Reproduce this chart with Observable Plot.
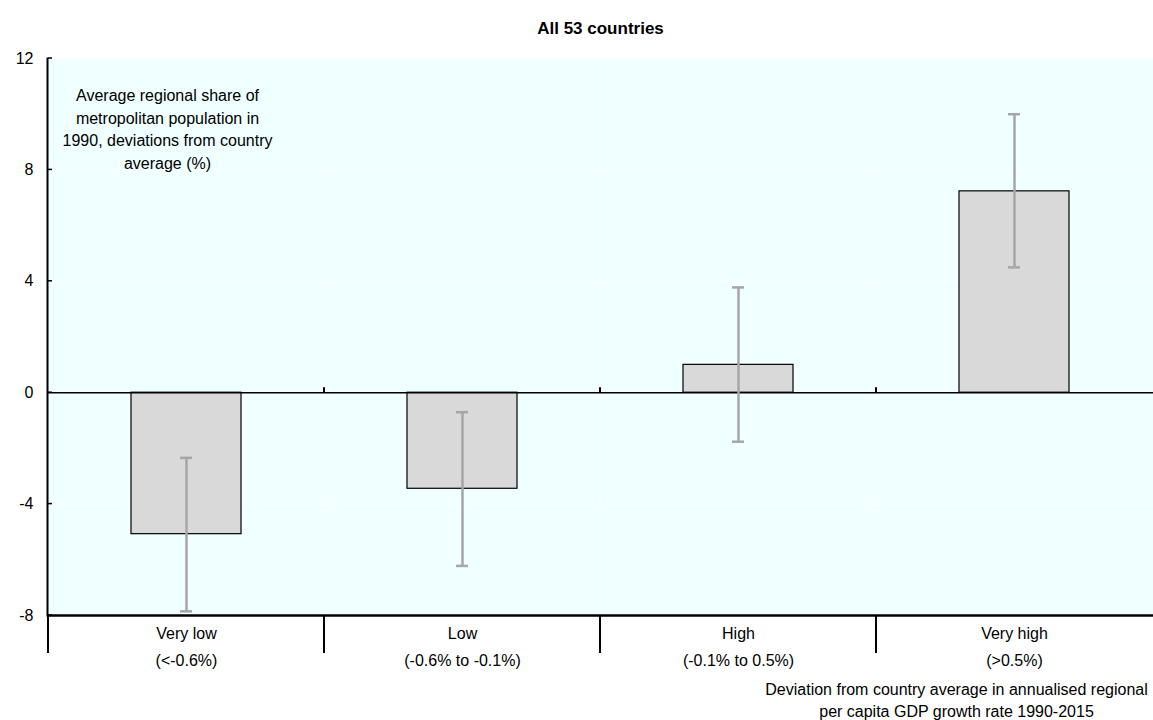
<!DOCTYPE html>
<html>
<head>
<meta charset="utf-8">
<script src="https://cdn.jsdelivr.net/npm/d3@7"></script>
<script src="https://cdn.jsdelivr.net/npm/@observablehq/plot@0.6"></script>
<style>
  html, body { margin: 0; padding: 0; background: #fff; }
  #chart svg { display: block; font-family: "Liberation Sans", Arial, sans-serif; }
</style>
</head>
<body>
<div id="chart"></div>
<script>
const categories = ["Very low", "Low", "High", "Very high"];
const ranges = ["(<-0.6%)", "(-0.6% to -0.1%)", "(-0.1% to 0.5%)", "(>0.5%)"];
const values = [-5.08, -3.45, 1.0, 7.23];
const lower = [-7.85, -6.22, -1.76, 4.5];
const upper = [-2.34, -0.7, 3.78, 10.0];
const yTicks = [-8, -4, 0, 4, 8, 12];
const title = "All 53 countries";
const yLabel = "Average regional share of\nmetropolitan population in\n1990, deviations from country\naverage (%)";
const xLabel = "Deviation from country average in annualised regional\nper capita GDP growth rate 1990-2015";

const data = categories.map((c, i) => ({cat: c, range: ranges[i], value: values[i], lo: lower[i], hi: upper[i]}));
const rangeOf = Object.fromEntries(categories.map((c, i) => [c, ranges[i]]));

const W = 1153, H = 720;
const plot = Plot.plot({
  width: W,
  height: H,
  marginTop: 58,
  marginBottom: 105,
  marginLeft: 47,
  marginRight: 0,
  style: {fontSize: "16px", color: "#000", background: "#fff"},
  x: {domain: categories, paddingInner: 0.6, paddingOuter: 0.3, axis: null},
  y: {domain: [-8, 12], axis: null},
  marks: [
    Plot.frame({fill: "#f0ffff", stroke: null}),
    Plot.gridY(yTicks, {stroke: "#fff", strokeOpacity: 1, strokeWidth: 1}),
    Plot.barY(data, {x: "cat", y: "value", fill: "#d9d9d9", stroke: "#000", strokeWidth: 1.2}),
    Plot.ruleY([0], {stroke: "#000", strokeWidth: 1.5}),
    Plot.ruleX(data, {x: "cat", y1: "lo", y2: "hi", stroke: "#a6a6a6", strokeWidth: 2.5}),
    Plot.tickY(data, {x: "cat", y: "lo", stroke: "#a6a6a6", strokeWidth: 2.5, insetLeft: 49, insetRight: 49}),
    Plot.tickY(data, {x: "cat", y: "hi", stroke: "#a6a6a6", strokeWidth: 2.5, insetLeft: 49, insetRight: 49}),
    Plot.ruleY([-8], {stroke: "#000", strokeWidth: 2.5}),
    Plot.frame({anchor: "left", stroke: "#000", strokeWidth: 2}),
    Plot.axisY({ticks: yTicks, tickSize: 0, tickPadding: 14, fontSize: 16, label: null, tickFormat: d => String(d)}),
    Plot.axisX({tickSize: 0, tickPadding: 4, lineHeight: 1.69, fontSize: 16, label: null, tickFormat: d => `${d}\n${rangeOf[d]}`}),
    Plot.text([yLabel], {frameAnchor: "top-left", dx: 120, dy: 27, lineAnchor: "top", textAnchor: "middle", lineHeight: 1.4, fontSize: 16, fill: "#000"}),
    Plot.text([title], {frameAnchor: "top", dy: -37, fontWeight: "bold", fontSize: 17, fill: "#000"}),
    Plot.text([xLabel], {frameAnchor: "bottom-right", dx: -197, dy: 64, lineAnchor: "top", textAnchor: "middle", lineHeight: 1.375, fontSize: 16, fill: "#000"})
  ]
});

// Category separators and small tick marks drawn from Plot's own scales
const xs = plot.scale("x"), ys = plot.scale("y");
const svg = d3.select(plot);
const step = xs.step;
const half = xs.bandwidth / 2;
const bounds = categories.map(c => xs.apply(c) + half - step / 2);
const g = svg.append("g").attr("stroke", "#000");
bounds.forEach((bx, i) => {
  g.append("line").attr("x1", bx).attr("x2", bx).attr("y1", ys.apply(-8)).attr("y2", ys.apply(-8) + 38).attr("stroke-width", 2);
  if (i > 0) {
    g.append("line").attr("x1", bx).attr("x2", bx).attr("y1", ys.apply(0)).attr("y2", ys.apply(0) - 5).attr("stroke-width", 2);
    svg.insert("line", "g").attr("x1", bx).attr("x2", bx).attr("y1", ys.apply(12)).attr("y2", ys.apply(-8)).attr("stroke", "#fff");
  }
});
yTicks.forEach(t => {
  g.append("line").attr("x1", bounds[0]).attr("x2", bounds[0] + 4).attr("y1", ys.apply(t)).attr("y2", ys.apply(t)).attr("stroke-width", 1.5);
});

document.getElementById("chart").appendChild(plot);
</script>
</body>
</html>
